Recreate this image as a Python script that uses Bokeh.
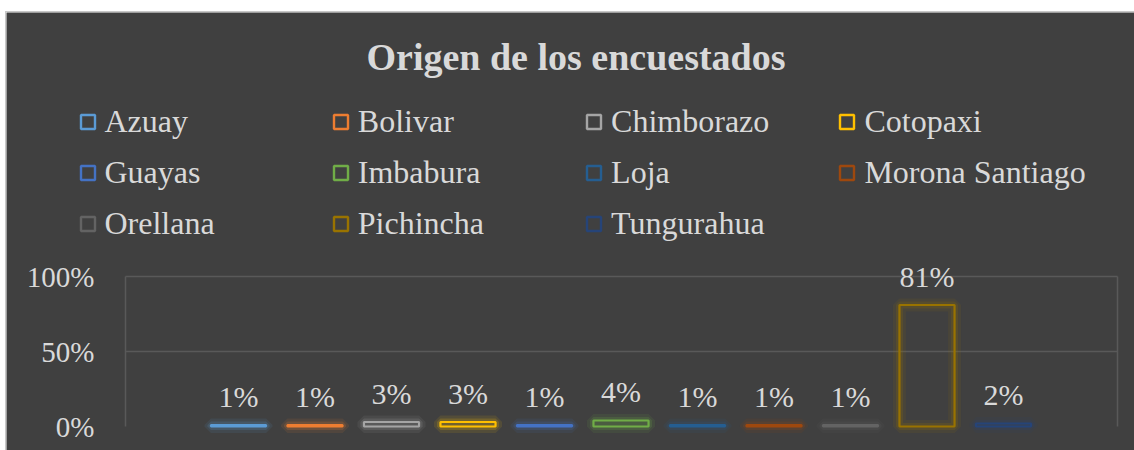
from bokeh.plotting import figure
from bokeh.models import (ColumnDataSource, Legend, LegendItem, Label, LinearAxis, Grid,
                          FixedTicker, NumeralTickFormatter, Range1d)
from bokeh.embed import file_html
from bokeh.resources import INLINE

# ---- data ----
provinces = ["Azuay", "Bolivar", "Chimborazo", "Cotopaxi", "Guayas", "Imbabura",
             "Loja", "Morona Santiago", "Orellana", "Pichincha", "Tungurahua"]
shares = [0.01, 0.01, 0.03, 0.03, 0.01, 0.04, 0.01, 0.01, 0.01, 0.81, 0.02]
labels = ["1%", "1%", "3%", "3%", "1%", "4%", "1%", "1%", "1%", "81%", "2%"]
colors = ["#5B9BD5", "#ED7D31", "#A5A5A5", "#FFC000", "#4472C4", "#70AD47",
          "#255E91", "#9E480E", "#636363", "#997300", "#264478"]
y_ticks = [0, 0.5, 1.0]
grid_ticks = [0.5, 1.0]

positions = list(range(len(provinces)))
src = ColumnDataSource(dict(x=positions, top=shares, label=labels, color=colors,
                            ynan=[float("nan")] * len(provinces)))

BG = "#404040"
GRID = "#595959"
TXT = "#D9D9D9"
FONT = "Liberation Serif"

W, H = 1128, 438
AX_LEFT, AX_RIGHT = -1.4771, 11.4902   # plot-area edges in category units

p = figure(width=W, height=H, output_backend="svg", toolbar_location=None,
           x_range=Range1d(-3.0327, 11.7124), y_range=Range1d(-0.16, 2.76),
           x_axis_location=None, y_axis_location=None,
           min_border=0, background_fill_color=BG, border_fill_color=BG)
p.margin = (12, 0, 0, 6)
p.styles = {"outline": "1px solid #C8C8C8"}
p.outline_line_color = None
for r in list(p.center):
    if isinstance(r, Grid):
        r.visible = False

grid = Grid(dimension=1, ticker=FixedTicker(ticks=grid_ticks), grid_line_color=GRID,
            grid_line_width=1.5, cross_bounds=(AX_LEFT, AX_RIGHT))
p.add_layout(grid)

ya = LinearAxis(fixed_location=AX_LEFT, bounds=(0, 1),
                ticker=FixedTicker(ticks=y_ticks),
                formatter=NumeralTickFormatter(format="0%"),
                axis_line_color=GRID, axis_line_width=1.5,
                major_tick_line_color=None, minor_tick_line_color=None,
                major_label_standoff=25, major_label_text_font=FONT,
                major_label_text_font_size="29px", major_label_text_color=TXT)
p.add_layout(ya, "left")

ra = LinearAxis(fixed_location=AX_RIGHT, bounds=(0, 1), ticker=FixedTicker(ticks=[]),
                axis_line_color=GRID, axis_line_width=1.5,
                major_tick_line_color=None, minor_tick_line_color=None,
                major_label_text_font_size="0px")
p.add_layout(ra, "right")

# glow layers
p.vbar(x="x", top="top", bottom=0, width=0.72, source=src, fill_color=None,
       line_color="color", line_width=13, line_alpha=0.10)
p.vbar(x="x", top="top", bottom=0, width=0.72, source=src, fill_color=None,
       line_color="color", line_width=7, line_alpha=0.18)
# main outlined bars
p.vbar(x="x", top="top", bottom=0, width=0.72, source=src, fill_color=None,
       line_color="color", line_width=2.2)

# data labels
p.text(x="x", y="top", text="label", source=src, text_align="center",
       text_baseline="middle", y_offset=-29, text_font={"value": FONT},
       text_font_size="30px", text_color=TXT)

# legend marker renderer (no visible points)
leg_r = p.scatter(x="x", y="ynan", source=src, marker="square", size=15,
                  fill_color=None, line_color="color", line_width=2.4)

ncols = 4
col_x = [63.5 + 253.3 * c for c in range(ncols)]
for c in range(ncols):
    idxs = [i for i in range(len(provinces)) if i % ncols == c]
    items = [LegendItem(label=provinces[i], renderers=[leg_r], index=i) for i in idxs]
    nrows = len(idxs)
    leg = Legend(items=items, location=(col_x[c], 450 - 95.5 - 51 * nrows),
                 orientation="vertical", glyph_width=35, glyph_height=51,
                 label_height=51, label_standoff=0, spacing=0, padding=0, margin=0,
                 label_width=200, background_fill_alpha=0, border_line_alpha=0,
                 label_text_font=FONT, label_text_font_size="32px",
                 label_text_color=TXT)
    p.add_layout(leg, "center")

title = Label(x=569.5, y=394, x_units="screen", y_units="screen",
              text="Origen de los encuestados", text_align="center",
              text_baseline="middle", text_font=FONT, text_font_size="38px",
              text_font_style="bold", text_color=TXT)
p.add_layout(title)

open("out.html", "w").write(file_html(p, INLINE))
